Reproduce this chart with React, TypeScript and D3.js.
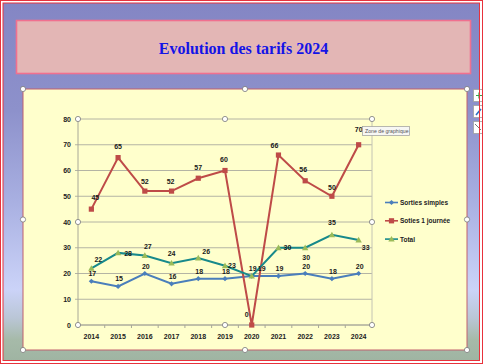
import * as d3 from "d3";

const years = ["2014", "2015", "2016", "2017", "2018", "2019", "2020", "2021", "2022", "2023", "2024"];
const sortiesSimples = [17, 15, 20, 16, 18, 18, 19, 19, 20, 18, 20];
const sotiesJournee = [45, 65, 52, 52, 57, 60, 0, 66, 56, 50, 70];
const total = [22, 28, 27, 24, 26, 23, 19, 30, 30, 35, 33];
const yTicks = [0, 10, 20, 30, 40, 50, 60, 70, 80];

// label nudges (Excel labels were dragged by hand)
const redNudge = [[4, -12], [0, -11], [0, -10], [-1, -10], [0, -11], [-1, -11], [-5, -11], [-4, -10], [-2, -11], [0, -9], [0, -15]];
const greenNudge = [[7, -9], [10, 1], [3, -9], [0, -10], [8, -7], [7, 0], [10, -8], [9, 0], [1, 10], [0, -12], [7, 7]];

const W = 483, H = 364;
const chart = { x0: 23, y0: 89, x1: 467, y1: 350 };
const plot = { left: 78, right: 372, top: 119, bottom: 325 };
const font = "'Liberation Sans', Arial, sans-serif";

const series = [
  { name: "Sorties simples", values: sortiesSimples, color: "#4a7ebb", marker: "diamond" },
  { name: "Soties 1 journée", values: sotiesJournee, color: "#be4b48", marker: "square" },
  { name: "Total", values: total, color: "#17898b", marker: "triangle" },
];

function Marker({ type, x, y, color }: { type: string; x: number; y: number; color: string }) {
  if (type === "square") return <rect x={x - 2.6} y={y - 2.6} width={5.2} height={5.2} fill={color} />;
  if (type === "triangle")
    return <path d={`M${x},${y - 3.2}L${x + 3.2},${y + 2.4}L${x - 3.2},${y + 2.4}Z`} fill="#9bbb59" />;
  return <path d={`M${x},${y - 2.6}L${x + 2.6},${y}L${x},${y + 2.6}L${x - 2.6},${y}Z`} fill={color} />;
}

function Handle({ x, y }: { x: number; y: number }) {
  return <circle cx={x} cy={y} r={2.6} fill="#fff" stroke="#7a7a7a" strokeWidth={0.8} />;
}

export default function App() {
  const x = d3.scaleBand().domain(years).range([plot.left, plot.right]);
  const y = d3.scaleLinear().domain([0, 80]).range([plot.bottom, plot.top]);
  const cx = (yr: string) => (x(yr) as number) + x.bandwidth() / 2;
  const line = d3.line<number>().x((_, i) => cx(years[i])).y((d) => y(d));
  const midX = (chart.x0 + chart.x1) / 2, midY = (chart.y0 + chart.y1) / 2;
  const pMidX = (plot.left + plot.right) / 2, pMidY = (plot.top + plot.bottom) / 2;

  return (
    <svg width={W} height={H} style={{ position: "fixed", left: 0, top: 0 }}>
      <defs>
        <linearGradient id="bg" x1="0" y1="0" x2="0" y2="1">
          <stop offset="0" stopColor="#8486c4" />
          <stop offset="0.3" stopColor="#8d91cb" />
          <stop offset="0.55" stopColor="#a8afe1" />
          <stop offset="0.8" stopColor="#cbd3f8" />
          <stop offset="0.88" stopColor="#bac6d6" />
          <stop offset="0.94" stopColor="#a6baa9" />
          <stop offset="1" stopColor="#9fb4a2" />
        </linearGradient>
      </defs>
      <rect x={0} y={0} width={W} height={H} fill="#fff" />
      <rect x={3} y={3} width={477} height={358} fill="url(#bg)" />

      {/* title box */}
      <rect x={16.5} y={20.5} width={454} height={53} fill="#e3b6b5" stroke="#f0708f" strokeWidth={1.6} />
      <text x={243.5} y={54} textAnchor="middle" fontFamily="'Liberation Serif', 'Times New Roman', serif"
        fontWeight="bold" fontSize={16} fill="#1414e6">Evolution des tarifs 2024</text>

      {/* chart area */}
      <rect x={chart.x0} y={chart.y0} width={chart.x1 - chart.x0} height={chart.y1 - chart.y0}
        fill="#ffffcc" stroke="#c0606e" strokeWidth={1} />

      {/* gridlines + y axis */}
      {yTicks.map((t) => (
        <g key={t}>
          <line x1={plot.left - 3} x2={plot.right} y1={y(t)} y2={y(t)} stroke="#b4b4a4" strokeWidth={1} />
          <text x={plot.left - 7} y={y(t) + 2.5} textAnchor="end" fontFamily={font} fontWeight="bold"
            fontSize={7} fill="#222">{t}</text>
        </g>
      ))}
      <line x1={plot.left} x2={plot.left} y1={plot.top} y2={plot.bottom} stroke="#a8a898" />
      <line x1={plot.right} x2={plot.right} y1={plot.top} y2={plot.bottom} stroke="#c4c4b4" />
      {/* x axis */}
      <line x1={plot.left} x2={plot.right} y1={plot.bottom} y2={plot.bottom} stroke="#a8a898" />
      {years.map((yr) => (
        <g key={yr}>
          <line x1={x(yr) as number} x2={x(yr) as number} y1={plot.bottom} y2={plot.bottom + 3} stroke="#a8a898" />
          <text x={cx(yr)} y={338.5} textAnchor="middle" fontFamily={font} fontWeight="bold" fontSize={7} fill="#222">{yr}</text>
        </g>
      ))}
      <line x1={plot.right} x2={plot.right} y1={plot.bottom} y2={plot.bottom + 3} stroke="#a8a898" />

      {/* series */}
      {series.map((s) => (
        <g key={s.name}>
          <path d={line(s.values) as string} fill="none" stroke={s.color} strokeWidth={2} />
          {s.values.map((v, i) => (
            <Marker key={i} type={s.marker} x={cx(years[i])} y={y(v)} color={s.color} />
          ))}
        </g>
      ))}

      {/* data labels */}
      <g fontFamily={font} fontSize={7} fontWeight="bold" fill="#1a1a1a" textAnchor="middle">
        {sortiesSimples.map((v, i) => (
          <text key={"b" + i} x={cx(years[i]) + 1} y={y(v) - 5}>{v}</text>
        ))}
        {sotiesJournee.map((v, i) => (
          <text key={"r" + i} x={cx(years[i]) + redNudge[i][0]} y={y(v) + redNudge[i][1] + 2.5}>{v}</text>
        ))}
        {total.map((v, i) => (
          <text key={"g" + i} x={cx(years[i]) + greenNudge[i][0]} y={y(v) + greenNudge[i][1] + 2.5}>{v}</text>
        ))}
      </g>

      {/* legend */}
      {series.map((s, i) => {
        const ly = 202.5 + i * 18.3;
        return (
          <g key={s.name}>
            <line x1={385} x2={398} y1={ly} y2={ly} stroke={s.color} strokeWidth={1.6} />
            <Marker type={s.marker} x={391.5} y={ly} color={s.color} />
            <text x={400} y={ly + 2.4} fontFamily={font} fontWeight="bold" fontSize={6.5} fill="#222">{s.name}</text>
          </g>
        );
      })}

      {/* selection handles */}
      {[[plot.left, plot.top], [pMidX, plot.top], [plot.right, plot.top], [plot.left, pMidY], [plot.right, pMidY],
        [plot.left, plot.bottom], [pMidX, plot.bottom], [plot.right, plot.bottom]].map(([hx, hy], i) => (
        <Handle key={"p" + i} x={hx} y={hy} />
      ))}
      {[[chart.x0, chart.y0], [midX, chart.y0], [chart.x1, chart.y0], [chart.x0, midY], [chart.x1, midY],
        [chart.x0, chart.y1], [midX, chart.y1], [chart.x1, chart.y1]].map(([hx, hy], i) => (
        <Handle key={"c" + i} x={hx} y={hy} />
      ))}

      {/* tooltip */}
      <rect x={362.5} y={126.5} width={47} height={9} fill="#f7f7f4" stroke="#9a9a9a" strokeWidth={0.7} />
      <text x={365} y={133} fontFamily={font} fontSize={5.2} fill="#555">Zone de graphique</text>

      {/* side buttons */}
      {[89, 105, 121].map((by, i) => (
        <g key={by}>
          <rect x={473.5} y={by + 0.5} width={12} height={12} fill="#fff" stroke="#a0a0a0" strokeWidth={0.8} />
          {i === 0 && <path d={`M476,${by + 6.5}h6M479,${by + 3.5}v6`} stroke="#3aa34a" strokeWidth={1.2} />}
          {i === 1 && <path d={`M476,${by + 10}L481,${by + 4}`} stroke="#2f6fc0" strokeWidth={1.6} />}
          {i === 2 && <path d={`M475,${by + 3}L481,${by + 9}`} stroke="#555" strokeWidth={0.8} />}
        </g>
      ))}

      {/* outer double red border */}
      <rect x={0.5} y={0.5} width={482} height={363} fill="none" stroke="#e8323c" strokeWidth={1} />
      <rect x={3} y={3} width={476.5} height={357.5} fill="none" stroke="#e8323c" strokeWidth={1} />
    </svg>
  );
}
